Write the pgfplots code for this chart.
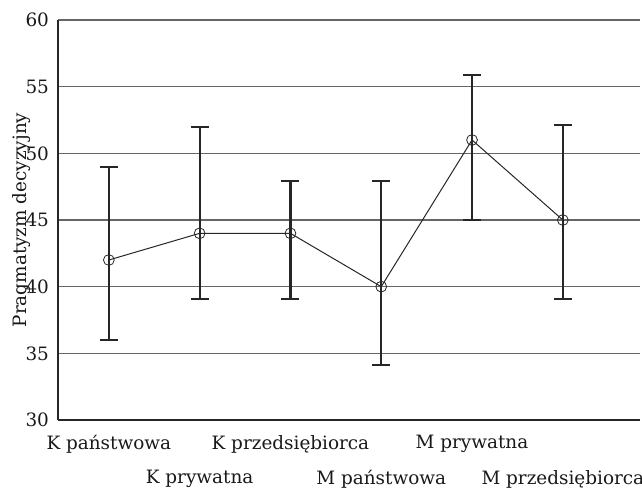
\documentclass[border=0pt]{standalone}
\usepackage{fontspec}
\setmainfont{DejaVu Serif}
\usepackage{pgfplots}
\pgfplotsset{compat=1.18}
\begin{document}
\begin{tikzpicture}[x=1pt,y=1pt]
\path[use as bounding box] (-29,-35) rectangle (292,210);
\begin{axis}[
  at={(0,0)}, anchor=south west,
  scale only axis, width=291pt, height=200pt,
  xmin=-0.56, xmax=5.85, ymin=30, ymax=60,
  ytick={30,35,...,60},
  xtick={0,2,4},
  xticklabels={K państwowa, K przedsiębiorca, M prywatna},
  extra x ticks={1,3,5},
  extra x tick labels={K prywatna, M państwowa, M przedsiębiorca},
  extra x tick style={xmajorgrids=false, tick label style={yshift=-17.5pt}},
  axis lines=left, axis line style={-, black!85, line width=0.6pt},
  ymajorgrids, grid style={black!60, line width=0.75pt},
  major tick length=0pt,
  tick label style={font=\fontsize{9.2}{10}\selectfont, text=black!90},
  xticklabel style={yshift=-4pt},
  yticklabel style={xshift=-1pt},
  /pgf/number format/assume math mode=true,
  ylabel={Pragmatyzm decyzyjny},
  ylabel style={at={(axis description cs:-0.062,0.5)}, anchor=center, font=\fontsize{9.2}{10}\selectfont, text=black!90},
  clip=false,
]
\addplot[draw=none, mark=none,
  error bars/.cd, y dir=both, y explicit,
  error bar style={line width=1.1pt, black!85},
  error mark options={rotate=90, mark size=4.5pt, line width=1.1pt, black!85}]
coordinates {
  (0,42) += (0,6.95) -= (0,6.0)
  (1,44) += (0,7.95) -= (0,4.95)
  (2,44) += (0,3.95) -= (0,4.95)
  (3,40) += (0,7.95) -= (0,5.9)
  (4,51) += (0,4.9) -= (0,6.0)
  (5,45) += (0,7.15) -= (0,5.9)
};
\addplot[black!85, line width=0.5pt, mark=o, mark size=2.7pt, mark options={line width=0.4pt}]
coordinates {(0,42) (1,44) (2,44) (3,40) (4,51) (5,45)};
\end{axis}
\end{tikzpicture}
\end{document}
